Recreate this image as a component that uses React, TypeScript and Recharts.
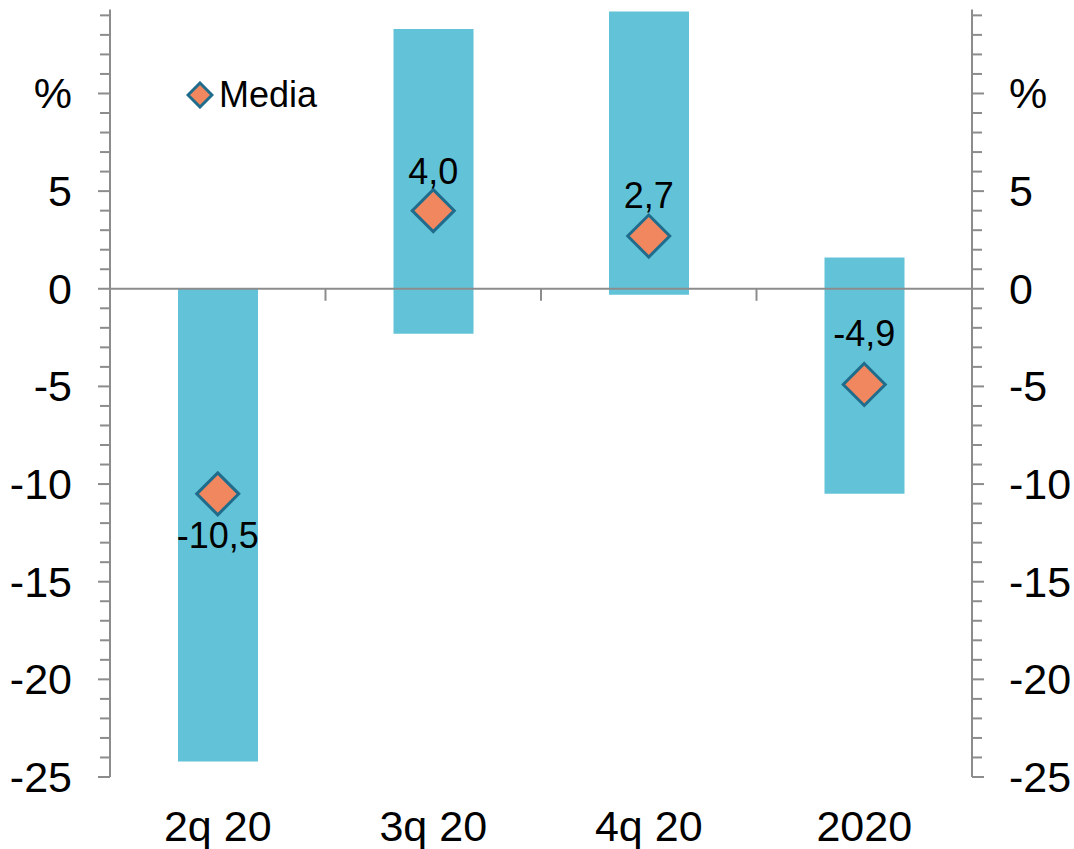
import React from 'react';
import { ComposedChart, Bar, Line, XAxis, YAxis, ReferenceLine, Legend, LabelList } from 'recharts';

const categories = ['2q 20', '3q 20', '4q 20', '2020'];
const rangeLow = [-24.2, -2.3, -0.3, -10.5];
const rangeHigh = [0, 13.3, 14.2, 1.6];
const media = [-10.5, 4.0, 2.7, -4.9];

const majorTicks = [-25, -20, -15, -10, -5, 0, 5, 10];
const majorTickLabels = ['-25', '-20', '-15', '-10', '-5', '0', '5', '%'];
const allTicks = Array.from({ length: 40 }, (_, i) => i - 25);

const data = categories.map((cat, i) => ({
  cat,
  range: [rangeLow[i], rangeHigh[i]],
  media: media[i],
}));

const FONT = '"Liberation Sans", Arial, sans-serif';
const AXIS = '#8c8c8c';
const BAR = '#62c3d8';
const DIA_FILL = '#f0875f';
const DIA_STROKE = '#1f6c8c';

const TS = 12;
const TM_L = 26;
const TM_R = 25;
const TICK_FONT = 43;

const labelStyle: Record<string, { dy: number }> = {
  '2q 20': { dy: 54 },
  '3q 20': { dy: -27 },
  '4q 20': { dy: -28 },
  '2020': { dy: -38 },
};

const makeYTick = (side: 'left' | 'right') => (props: any) => {
  const { x, y, payload } = props;
  const v = payload.value as number;
  const idx = majorTicks.indexOf(v);
  const major = idx >= 0;
  const len = major ? 12 : 10;
  const axisX = side === 'left' ? x + TS + TM_L : x - TS - TM_R;
  const x2 = side === 'left' ? axisX - len : axisX + len;
  return (
    <g>
      <line x1={axisX} x2={x2} y1={y} y2={y} stroke={AXIS} strokeWidth={2} />
      {major && (
        <text
          x={x}
          y={y + 15}
          textAnchor={side === 'left' ? 'end' : 'start'}
          fontSize={TICK_FONT}
          fontFamily={FONT}
          fill="#000"
        >
          {majorTickLabels[idx]}
        </text>
      )}
    </g>
  );
};

const ZeroLine = (props: any) => {
  const { x1, x2, y1 } = props;
  const n = categories.length;
  const w = (x2 - x1) / n;
  const ticks = [];
  for (let k = 1; k < n; k++) {
    const tx = x1 + w * k;
    ticks.push(<line key={k} x1={tx} x2={tx} y1={y1} y2={y1 + 12} stroke={AXIS} strokeWidth={2} />);
  }
  return (
    <g>
      <line x1={x1} x2={x2} y1={y1} y2={y1} stroke={AXIS} strokeWidth={2} />
      {ticks}
    </g>
  );
};

const Diamond = (props: any) => {
  const { cx, cy } = props;
  if (cx == null || cy == null) return null;
  const r = 21;
  return (
    <polygon
      points={`${cx},${cy - r} ${cx + r},${cy} ${cx},${cy + r} ${cx - r},${cy}`}
      fill={DIA_FILL}
      stroke={DIA_STROKE}
      strokeWidth={3}
    />
  );
};

const MediaLabel = (props: any) => {
  const { x, y, value, index } = props;
  const cat = categories[index];
  const dy = labelStyle[cat]?.dy ?? -28;
  return (
    <text x={x} y={y + dy} textAnchor="middle" fontSize={36} fontFamily={FONT} fill="#000">
      {Number(value).toFixed(1).replace('.', ',')}
    </text>
  );
};

const LegendContent = () => (
  <div style={{ display: 'flex', alignItems: 'center', fontFamily: FONT, fontSize: 36, color: '#000' }}>
    <svg width={28} height={28} style={{ marginRight: 5 }}>
      <polygon points="14,2 26,14 14,26 2,14" fill={DIA_FILL} stroke={DIA_STROKE} strokeWidth={3} />
    </svg>
    <span>Media</span>
  </div>
);

export default function App() {
  return (
    <div style={{ position: 'absolute', left: 0, top: 0, width: 1074, height: 849, background: '#fff' }}>
      <ComposedChart
        width={1074}
        height={849}
        data={data}
        margin={{ top: 9.5, right: 0, bottom: 0, left: 0 }}
        barCategoryGap={0}
      >
        <XAxis
          dataKey="cat"
          axisLine={false}
          tickLine={false}
          tickSize={0}
          tickMargin={33}
          height={72}
          interval={0}
          tick={{ fontSize: TICK_FONT, fontFamily: FONT, fill: '#000' }}
        />
        <YAxis
          yAxisId="left"
          orientation="left"
          width={110}
          domain={[-25, 14.3]}
          ticks={allTicks}
          interval={0}
          tickSize={TS}
          tickMargin={TM_L}
          tickLine={false}
          axisLine={{ stroke: AXIS, strokeWidth: 2 }}
          tick={makeYTick('left')}
        />
        <YAxis
          yAxisId="right"
          orientation="right"
          width={102}
          domain={[-25, 14.3]}
          ticks={allTicks}
          interval={0}
          tickSize={TS}
          tickMargin={TM_R}
          tickLine={false}
          axisLine={{ stroke: AXIS, strokeWidth: 2 }}
          tick={makeYTick('right')}
        />
        <ReferenceLine yAxisId="left" y={0} shape={ZeroLine} />
        <Bar yAxisId="left" dataKey="range" fill={BAR} barSize={80} isAnimationActive={false} />
        <Line
          yAxisId="right"
          dataKey="media"
          stroke="none"
          dot={false}
          activeDot={false}
          legendType="none"
          isAnimationActive={false}
        />
        <Line
          yAxisId="left"
          dataKey="media"
          stroke="none"
          dot={Diamond}
          activeDot={false}
          isAnimationActive={false}
        >
          <LabelList dataKey="media" content={MediaLabel} />
        </Line>
        <Legend
          layout="horizontal"
          align="center"
          verticalAlign="middle"
          content={LegendContent}
          wrapperStyle={{ position: 'absolute', left: 186, top: 74, width: 'auto', height: 'auto' }}
        />
      </ComposedChart>
    </div>
  );
}
